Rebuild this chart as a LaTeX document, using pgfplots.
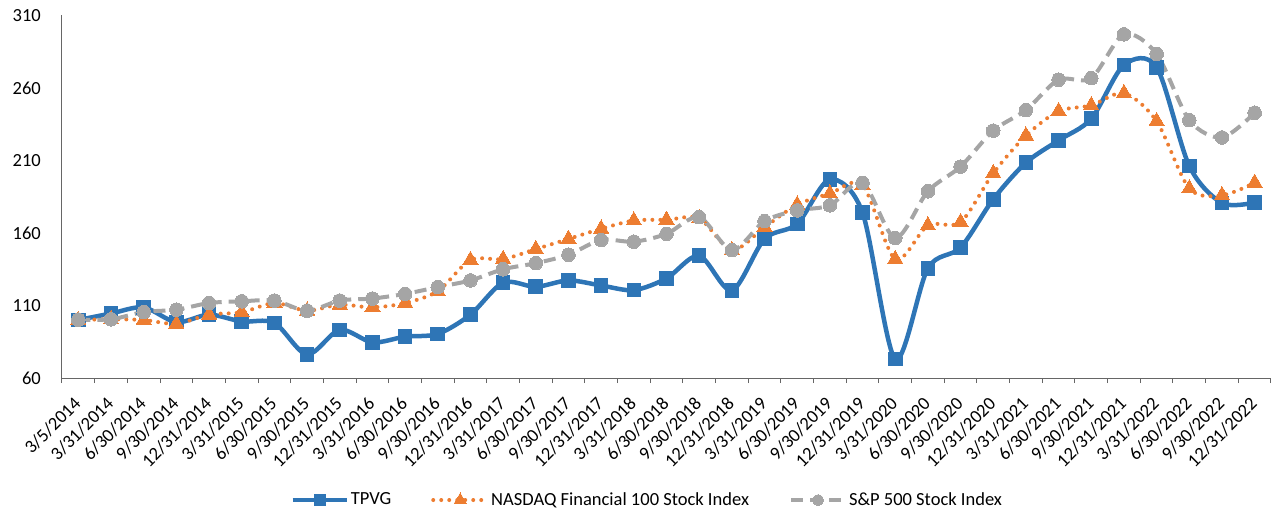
\documentclass[border=0pt]{standalone}
\usepackage{pgfplots}
\pgfplotsset{compat=1.18}
\usepackage{fontspec}
\setmainfont{Carlito}
\definecolor{cblue}{HTML}{2E75B6}
\definecolor{corange}{HTML}{ED7D31}
\definecolor{cgray}{HTML}{A5A5A5}
\definecolor{caxis}{HTML}{666666}
\newcommand{\cf}{\fontsize{18.5}{22}\selectfont}
\newcommand{\xl}[1]{\raisebox{-21.5pt}[0pt][0pt]{#1\hspace*{16.5pt}}}
\begin{document}
\cf
\begin{tikzpicture}[x=1pt,y=1pt]
\useasboundingbox (0,0) rectangle (1271,512);
\begin{axis}[
  at={(62pt,134pt)}, anchor=south west,
  scale only axis, width=1209pt, height=362.5pt,
  xmin=-0.5, xmax=36.5, ymin=60, ymax=310,
  clip=false,
  axis x line*=bottom, axis y line*=left,
  axis line style={caxis, line width=1pt, -},
  /pgf/number format/assume math mode=true,
  ytick={60,110,160,210,260,310},
  yticklabel={\pgfmathprintnumber{\tick}\hspace*{21pt}},
  yticklabel style={font=\cf, anchor=east, inner sep=0pt},
  xtick={0,...,36},
  xticklabels={\xl{3/5/2014},\xl{3/31/2014},\xl{6/30/2014},\xl{9/30/2014},\xl{12/31/2014},\xl{3/31/2015},\xl{6/30/2015},\xl{9/30/2015},\xl{12/31/2015},\xl{3/31/2016},\xl{6/30/2016},\xl{9/30/2016},\xl{12/31/2016},\xl{3/31/2017},\xl{6/30/2017},\xl{9/30/2017},\xl{12/31/2017},\xl{3/31/2018},\xl{6/30/2018},\xl{9/30/2018},\xl{12/31/2018},\xl{3/31/2019},\xl{6/30/2019},\xl{9/30/2019},\xl{12/31/2019},\xl{3/31/2020},\xl{6/30/2020},\xl{9/30/2020},\xl{12/31/2020},\xl{3/31/2021},\xl{6/30/2021},\xl{9/30/2021},\xl{12/31/2021},\xl{3/31/2022},\xl{6/30/2022},\xl{9/30/2022},\xl{12/31/2022}},
  xticklabel style={font=\cf, rotate=45, anchor=east, inner sep=0pt},
  major tick length=0pt,
  minor xtick={-0.5,0.5,...,36.5},
  minor tick length=5pt,
  tick align=outside,
  minor tick style={caxis, line width=1pt},
  legend style={at={(axis description cs:0.484,-0.3366)}, anchor=center, draw=none, fill=none,
    legend columns=-1, font=\cf, inner sep=0pt,
    /tikz/every even column/.append style={column sep=38pt}},
  legend cell align=left,
  legend image code/.code={\draw[mark repeat=2,mark phase=2,#1,/tikz/every mark/.append style={scale=0.8}] plot coordinates {(0pt,0pt) (27pt,0pt) (54pt,0pt)};},
]
\addplot[cblue, line width=4.5pt, smooth, tension=0.5, mark=square*, mark size=6.8pt, mark options={solid, fill=cblue, draw=cblue, line width=0pt}]
coordinates {(0,100) (1,104.5) (2,108.7) (3,98.5) (4,103.7) (5,99) (6,98) (7,76.2) (8,93.2) (9,84.6) (10,88.5) (11,90.4) (12,103.7) (13,125.7) (14,122.9) (15,127.3) (16,123.8) (17,120.6) (18,128.7) (19,144.3) (20,120.4) (21,155.9) (22,166.3) (23,197) (24,174) (25,73) (26,135.7) (27,150) (28,183.3) (29,208.5) (30,223.9) (31,238.8) (32,275.9) (33,274.3) (34,206.2) (35,180.7) (36,181)};
\addlegendentry{TPVG}
\addplot[corange, line width=4pt, smooth, tension=0.5, line cap=round, dash pattern=on 0pt off 8pt, mark=triangle*, mark size=8.8pt, mark options={solid, fill=corange, draw=corange, line width=0pt}]
coordinates {(0,100) (1,100.5) (2,100) (3,97.4) (4,103.7) (5,105.3) (6,111.7) (7,106.4) (8,110.6) (9,108.7) (10,111.7) (11,119.9) (12,141.3) (13,142) (14,148.9) (15,155.9) (16,162.9) (17,168.6) (18,169.1) (19,170) (20,148.2) (21,164) (22,179.5) (23,187.2) (24,193) (25,142) (26,165.2) (27,167.5) (28,201.2) (29,227.1) (30,244) (31,248) (32,256.4) (33,237.1) (34,190.7) (35,186) (36,194.6)};
\addlegendentry{NASDAQ Financial 100 Stock Index}
\addplot[cgray, line width=4pt, smooth, tension=0.5, dash pattern=on 12pt off 7pt, mark=*, mark size=6.8pt, mark options={solid, fill=cgray, draw=cgray, line width=0pt}]
coordinates {(0,100.2) (1,100.5) (2,105.5) (3,107.1) (4,111.7) (5,112.9) (6,113.4) (7,106.4) (8,113.4) (9,114.8) (10,118) (11,122.7) (12,127.3) (13,135) (14,139.2) (15,145) (16,155.2) (17,154) (18,159.4) (19,170.9) (20,148.2) (21,168.2) (22,175.6) (23,179.1) (24,194.6) (25,156.6) (26,188.8) (27,205.8) (28,230.6) (29,244.8) (30,265.7) (31,266.8) (32,297) (33,283.5) (34,237.8) (35,225.9) (36,242.9)};
\addlegendentry{S\&P 500 Stock Index}
\end{axis}
\end{tikzpicture}
\end{document}
